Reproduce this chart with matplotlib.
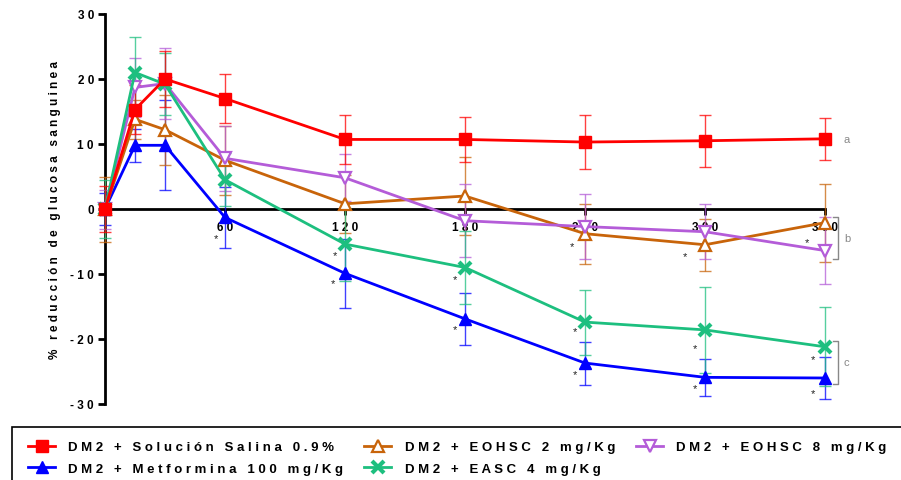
import matplotlib
matplotlib.use("Agg")
import matplotlib.pyplot as plt
from matplotlib.patches import Rectangle

plt.rcParams['font.family'] = ['Liberation Sans', 'DejaVu Sans']

# ---------------- data ----------------
time = [0, 15, 30, 60, 120, 180, 240, 300, 360]

salina = [0, 15.3, 20.0, 17.0, 10.7, 10.7, 10.3, 10.5, 10.8]
salina_err = [3.5, 3.8, 4.3, 3.7, 3.7, 3.5, 4.2, 4.0, 3.2]

metformina = [0, 9.8, 9.8, -1.3, -9.9, -16.9, -23.7, -25.9, -26.0]
metformina_err = [2.5, 2.5, 6.9, 4.7, 5.3, 4.0, 3.3, 2.8, 3.3]

eohsc2 = [0, 13.8, 12.2, 7.5, 0.8, 2.0, -3.8, -5.5, -2.1]
eohsc2_err = [5.0, 3.0, 5.4, 5.3, 4.5, 6.0, 4.6, 4.0, 6.0]

eohsc8 = [0, 18.7, 19.3, 7.8, 4.8, -1.8, -2.7, -3.5, -6.4]
eohsc8_err = [3.0, 4.6, 5.4, 5.0, 3.6, 5.6, 5.0, 4.2, 5.2]

easc4 = [0, 21.0, 19.2, 4.5, -5.4, -9.0, -17.4, -18.6, -21.2]
easc4_err = [4.5, 5.4, 4.8, 4.1, 5.6, 5.6, 5.0, 6.6, 6.1]

labels = ["DM2 + Solución Salina 0.9%",
          "DM2 + Metformina 100 mg/Kg",
          "DM2 + EOHSC 2 mg/Kg",
          "DM2 + EASC 4 mg/Kg",
          "DM2 + EOHSC 8 mg/Kg"]

y_ticks = [-30, -20, -10, 0, 10, 20, 30]
x_ticks = [60, 120, 180, 240, 300, 360]
y_label = "% reducción de glucosa sanguinea"

# significance asterisks: (series index, time index, dx px, dy px)
stars = [(1, 3, -9, -21),
         (3, 4, -10, -11), (1, 4, -12, -10),
         (3, 5, -10, -12), (1, 5, -10, -10),
         (2, 6, -13, -12), (3, 6, -10, -9), (1, 6, -10, -11),
         (2, 7, -20, -11), (3, 7, -10, -18), (1, 7, -10, -11),
         (4, 8, -18, 9), (3, 8, -12, -12), (1, 8, -12, -15)]

group_letters = ["a", "b", "c"]


def sp(s):
    return " ".join(s)


# ---------------- figure ----------------
W, H = 901, 481
fig = plt.figure(figsize=(W / 100, H / 100), dpi=100)
ax = fig.add_axes([105 / W, 1 - 405 / H, 720 / W, 390 / H])
ax.set_axisbelow(True)

series = [salina, metformina, eohsc2, easc4, eohsc8]
errs = [salina_err, metformina_err, eohsc2_err, easc4_err, eohsc8_err]
colors = ["#FF0000", "#0000FF", "#C8640A", "#1DBF7F", "#B45CD8"]
markers = ["s", "^", "^", "x", "v"]
mfcs = ["#FF0000", "#0000FF", "white", "#1DBF7F", "white"]
msizes = [9, 9, 9, 9, 9]
mews = [1, 1, 1.6, 3, 1.6]
zs = [0.5, 0.1, 0.2, 0.4, 0.3]

for i in range(5):
    ax.errorbar(time, series[i], yerr=errs[i], fmt="none", ecolor=colors[i],
                elinewidth=1.0, capsize=4, capthick=1.0, alpha=0.75,
                zorder=3 + zs[i], clip_on=False)
for i in range(5):
    ax.plot(time, series[i], color=colors[i], lw=2, marker=markers[i],
            ms=msizes[i], mfc=mfcs[i], mec=colors[i], mew=mews[i],
            zorder=4 + zs[i], clip_on=False, label=labels[i])

# asterisks
for si, ti, dx, dy in stars:
    ax.annotate("*", (time[ti], series[si][ti]), xytext=(dx * 0.72, dy * 0.72),
                textcoords="offset points", ha="center", va="center",
                fontsize=8, color="#222222", zorder=6)

ax.set_xlim(0, 360)
ax.set_ylim(-30, 30)

for s in ["top", "right"]:
    ax.spines[s].set_visible(False)
ax.spines["bottom"].set_position(("data", 0))
ax.spines["left"].set_linewidth(2)
ax.spines["bottom"].set_linewidth(2)

ax.set_yticks(y_ticks)
ax.set_yticklabels([sp(str(v)) for v in y_ticks], fontsize=8.5, fontweight="bold")
ax.set_xticks(x_ticks)
ax.set_xticklabels([sp(str(v)) for v in x_ticks], fontsize=8.5, fontweight="bold")
ax.tick_params(axis="y", direction="out", length=5, width=2, pad=3)
ax.tick_params(axis="x", direction="out", length=4, width=2, pad=5)

ax.set_ylabel(sp(y_label), fontsize=8.5, fontweight="bold")
ax.yaxis.set_label_coords(-44 / 720, 0.5)

# group brackets and letters
gray = "#888888"
ax.text(369, salina[-1], group_letters[0], color=gray, fontsize=8,
        ha="left", va="center", clip_on=False)
for (y0, y1), letter in zip([(-1.2, -7.7), (-20.3, -26.9)], group_letters[1:]):
    ax.plot([364, 366.5, 366.5, 364], [y0, y0, y1, y1], color=gray, lw=1,
            clip_on=False)
    ax.text(369.5, (y0 + y1) / 2, letter, color=gray, fontsize=8,
            ha="left", va="center", clip_on=False)

# legend box
fig.patches.append(Rectangle((12 / W, -0.05), 1.0, (1 - 428 / H) + 0.05,
                             transform=fig.transFigure, fill=False,
                             edgecolor="black", lw=1.2))

handles, labs = ax.get_legend_handles_labels()
leg = fig.legend(handles, [sp(l) for l in labs], ncol=3, frameon=False,
                 loc="upper left", bbox_to_anchor=(28 / W, 1 - 442 / H),
                 prop={"weight": "bold", "size": 9.5}, handlelength=2.05,
                 handletextpad=1.0, columnspacing=1.6, labelspacing=0.7,
                 borderaxespad=0, borderpad=0)
for h in leg.legend_handles:
    h.set_markersize(8)

fig.savefig("out.png", dpi=100)
